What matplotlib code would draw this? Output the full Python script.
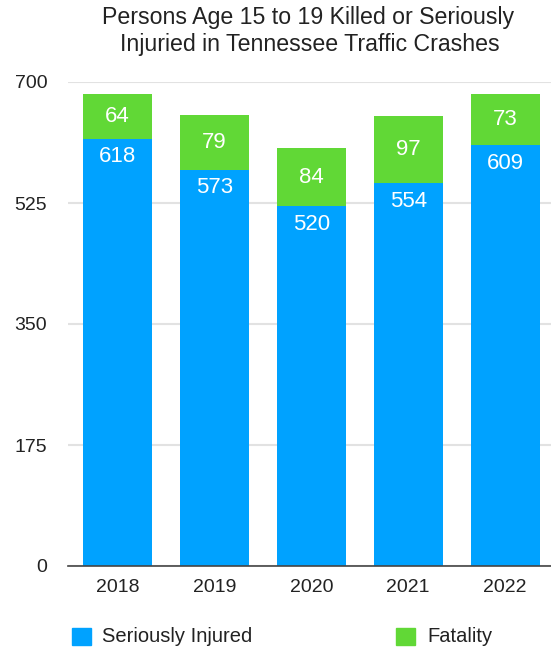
import matplotlib.pyplot as plt
import numpy as np

plt.rcParams['font.family'] = ['Liberation Sans', 'DejaVu Sans']

years = ['2018', '2019', '2020', '2021', '2022']
injured = [618, 573, 520, 554, 609]
fatality = [64, 79, 84, 97, 73]
yticks = [0, 175, 350, 525, 700]

blue = '#00A2FF'
green = '#61D836'

W, H = 551, 647
fig = plt.figure(figsize=(W / 100, H / 100), dpi=100)
ax = fig.add_axes([68 / W, 1 - 566 / H, 1 - 68 / W, (566 - 82) / H])

x = np.arange(len(years))
w = 0.712
ax.bar(x, injured, width=w, color=blue, zorder=3)
ax.bar(x, fatality, width=w, bottom=injured, color=green, zorder=3)

for i in range(len(years)):
    ax.text(x[i], injured[i] - 11, str(injured[i]), ha='center', va='top',
            color='white', fontsize=16, zorder=4)
    ax.text(x[i], injured[i] + fatality[i] / 2, str(fatality[i]), ha='center',
            va='center', color='white', fontsize=16, zorder=4)

ax.set_xlim(-0.511, 4.474)
ax.set_ylim(0, 700)
ax.set_yticks(yticks)
ax.set_yticklabels([str(t) for t in yticks], fontsize=14, color='#222222')
ax.set_xticks(x)
ax.set_xticklabels(years, fontsize=14, color='#222222')
ax.tick_params(axis='both', length=0)
ax.tick_params(axis='y', pad=15)
ax.tick_params(axis='x', pad=9)
ax.grid(axis='y', color='#E2E2E2', linewidth=1.5, zorder=0)
for s in ['top', 'right', 'left']:
    ax.spines[s].set_visible(False)
ax.spines['bottom'].set_color('#444444')
ax.spines['bottom'].set_linewidth(1.2)
ax.spines['bottom'].set_zorder(5)

fig.text(308 / W, 1 - 24 / H, 'Persons Age 15 to 19 Killed or Seriously',
         ha='center', va='baseline', fontsize=16.7, color='#222222')
fig.text(310 / W, 1 - 51 / H, 'Injuried in Tennessee Traffic Crashes',
         ha='center', va='baseline', fontsize=16.7, color='#222222')

# legend
fig.patches.append(plt.Rectangle((72 / W, 1 - 645 / H), 19 / W, 17 / H,
                                 transform=fig.transFigure, color=blue))
fig.text(102 / W, 1 - 636 / H, 'Seriously Injured', ha='left', va='center',
         fontsize=14.5, color='#222222')
fig.patches.append(plt.Rectangle((396 / W, 1 - 645 / H), 19 / W, 17 / H,
                                 transform=fig.transFigure, color=green))
fig.text(427 / W, 1 - 636 / H, 'Fatality', ha='left', va='center',
         fontsize=14.5, color='#222222')

fig.savefig('out.png', dpi=100)
